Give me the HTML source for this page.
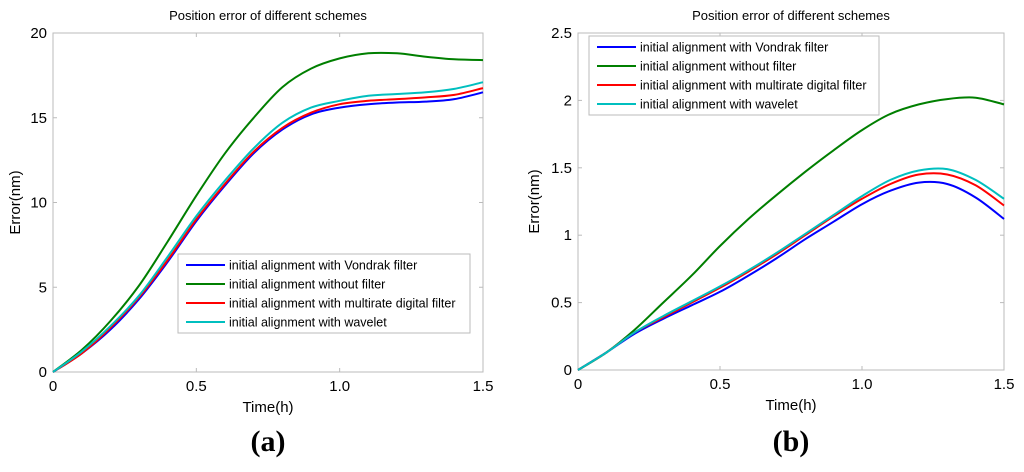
<!DOCTYPE html>
<html><head><meta charset="utf-8"><style>
body{margin:0;background:#fff;}
svg{display:block;font-family:"Liberation Sans",sans-serif;}
</style></head><body>
<svg id="s" width="1024" height="472"></svg>
<script>
const xTicks=[0,0.5,1.0,1.5];
const xTickLabels=["0","0.5","1.0","1.5"];
const tValues=[0,0.1,0.2,0.3,0.4,0.5,0.6,0.7,0.8,0.9,1.0,1.1,1.2,1.3,1.4,1.5];
const seriesNames=["initial alignment with Vondrak filter","initial alignment without filter","initial alignment with multirate digital filter","initial alignment with wavelet"];
const seriesColors=["#0000ff","#007f00","#ff0000","#00bfbf"];
// panel a
const aYTicks=[0,5,10,15,20];
const aYTickLabels=["0","5","10","15","20"];
const aBlue=[0,1.1,2.5,4.3,6.5,8.9,11.0,12.9,14.3,15.2,15.6,15.8,15.9,15.95,16.1,16.5];
const aGreen=[0,1.3,3.0,5.1,7.7,10.4,12.9,15.0,16.8,17.9,18.5,18.8,18.8,18.6,18.45,18.4];
const aRed=[0,1.1,2.6,4.4,6.6,9.0,11.1,13.0,14.4,15.3,15.8,16.0,16.1,16.2,16.35,16.75];
const aCyan=[0,1.2,2.7,4.5,6.8,9.2,11.3,13.2,14.7,15.6,16.0,16.3,16.4,16.5,16.7,17.1];
// panel b
const bYTicks=[0,0.5,1,1.5,2,2.5];
const bYTickLabels=["0","0.5","1","1.5","2","2.5"];
const bBlue=[0,0.13,0.27,0.38,0.48,0.58,0.70,0.83,0.97,1.10,1.23,1.33,1.39,1.38,1.28,1.12];
const bGreen=[0,0.13,0.30,0.50,0.70,0.92,1.12,1.30,1.47,1.63,1.78,1.90,1.97,2.01,2.02,1.97];
const bRed=[0,0.13,0.28,0.39,0.50,0.61,0.73,0.86,1.00,1.14,1.27,1.38,1.45,1.45,1.37,1.22];
const bCyan=[0,0.13,0.28,0.40,0.51,0.62,0.74,0.87,1.01,1.15,1.29,1.41,1.48,1.49,1.41,1.27];

const svg=document.getElementById('s');
const NS="http://www.w3.org/2000/svg";
function mk(tag,attrs,parent,text){const e=document.createElementNS(NS,tag);for(const k in attrs)e.setAttribute(k,attrs[k]);if(text!==undefined)e.textContent=text;(parent||svg).appendChild(e);return e;}
function smooth(P){
  let d='M'+P[0][0].toFixed(1)+','+P[0][1].toFixed(1);
  for(let i=0;i<P.length-1;i++){
    const p0=P[Math.max(i-1,0)],p1=P[i],p2=P[i+1],p3=P[Math.min(i+2,P.length-1)];
    const c1=[p1[0]+(p2[0]-p0[0])/6,p1[1]+(p2[1]-p0[1])/6];
    const c2=[p2[0]-(p3[0]-p1[0])/6,p2[1]-(p3[1]-p1[1])/6];
    d+=` C${c1[0].toFixed(1)},${c1[1].toFixed(1)} ${c2[0].toFixed(1)},${c2[1].toFixed(1)} ${p2[0].toFixed(1)},${p2[1].toFixed(1)}`;
  }
  return d;
}

function panel(p){
  const g=mk('g',{});
  
  
  const {x0,x1,y0,y1,ymax}=p;
  const sx=v=>x0+(v/1.5)*(x1-x0);
  const sy=v=>y1-(v/ymax)*(y1-y0);
  const t=mk('text',{x:(x0+x1)/2,y:20,'font-size':13,'text-anchor':'middle',fill:'#000'},g,"Position error of different schemes");
  
  
  const box=mk('rect',{x:x0,y:y0,width:x1-x0,height:y1-y0,fill:'none',stroke:'#bbb','stroke-width':1},g);
  
  
  xTicks.forEach((v,i)=>{
    const x=sx(v);
    mk('line',{x1:x,x2:x,y1:y1,y2:y1-4,stroke:'#bbb'},g);
    mk('line',{x1:x,x2:x,y1:y0,y2:y0+4,stroke:'#bbb'},g);
    const l=mk('text',{x:x,y:y1+19,'font-size':15,'text-anchor':'middle'},g,xTickLabels[i]);
    
    
  });
  p.yTicks.forEach((v,i)=>{
    const y=sy(v);
    mk('line',{x1:x0,x2:x0+4,y1:y,y2:y,stroke:'#bbb'},g);
    mk('line',{x1:x1,x2:x1-4,y1:y,y2:y,stroke:'#bbb'},g);
    const l=mk('text',{x:x0-6,y:y+5,'font-size':15,'text-anchor':'end'},g,p.yLabels[i]);
    
    
  });
  const xt=mk('text',{x:(x0+x1)/2,y:y1+40,'font-size':15,'text-anchor':'middle'},g,"Time(h)");
  
  
  const cy=(y0+y1)/2;
  const yt=mk('text',{x:p.ytx,y:cy,'font-size':15,'text-anchor':'middle',transform:`rotate(-90 ${p.ytx} ${cy})`},g,"Error(nm)");
  
  
  p.series.forEach((d,si)=>{
    const P=d.map((v,i)=>[sx(tValues[i]),sy(v)]);
    const pl=mk('path',{d:smooth(P),fill:'none',stroke:seriesColors[si],'stroke-width':2,'stroke-linejoin':'round'},g);
    
    
  });
  const lg=mk('g',{},g);
  
  
  mk('rect',{x:p.lx,y:p.ly,width:p.lw,height:79,fill:'#fff',stroke:'#bbb'},lg);
  seriesNames.forEach((n,i)=>{
    const yy=p.ly+11+i*19;
    mk('line',{x1:p.lx+8,x2:p.lx+47,y1:yy,y2:yy,stroke:seriesColors[i],'stroke-width':2},lg);
    const e=mk('text',{x:p.lx+51,y:yy+4.5,'font-size':12.5},lg,n);
    
    
  });
  const c=mk('text',{x:(x0+x1)/2,y:451,'font-size':30,'font-weight':'bold','text-anchor':'middle','font-family':'Liberation Serif, serif'},g,p.caption);
  
  
}
panel({name:'panel-a',x0:53,x1:483,y0:33,y1:372,ymax:20,yTicks:aYTicks,yLabels:aYTickLabels,series:[aBlue,aGreen,aRed,aCyan],lx:178,ly:254,lw:292,ytx:20,caption:"(a)"});
panel({name:'panel-b',x0:578,x1:1004,y0:33,y1:370,ymax:2.5,yTicks:bYTicks,yLabels:bYTickLabels,series:[bBlue,bGreen,bRed,bCyan],lx:589,ly:36,lw:290,ytx:539,caption:"(b)"});
</script>
</body></html>
